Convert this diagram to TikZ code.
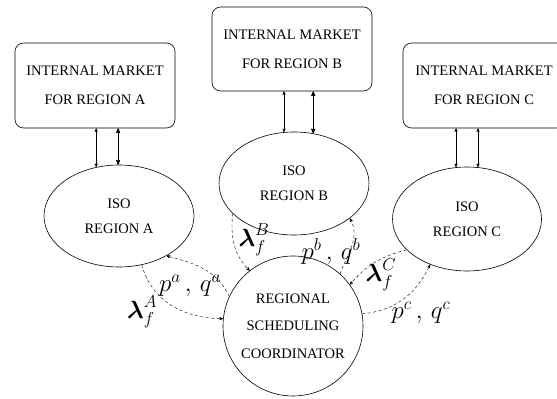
\documentclass[tikz,border=0pt]{standalone}
\usepackage{amsmath}
\usepackage{fontspec}
\setmainfont{Liberation Serif}
\usetikzlibrary{arrows,arrows.meta,shapes.geometric,calc}
\newcommand{\lam}[2]{\boldsymbol{\lambda}_{#1}^{#2}}

\begin{document}
\begin{tikzpicture}[x=1pt,y=1pt,>=stealth',semithick,
		market/.style={draw, rounded corners=3mm, align=center, inner sep=0,
			font=\fontsize{14.5}{29}\selectfont},
		iso/.style={draw, ellipse, inner sep=0, align=center,
			font=\fontsize{14.5}{25}\selectfont},
		rsc/.style={draw, circle, inner sep=0, minimum size=140, align=center,
			font=\fontsize{14.5}{27.5}\selectfont},
		link/.style={<->, thin, shorten >=0pt},
		flow/.style={->, thin, dashed, dash pattern=on 3pt off 2.5pt},
		lab/.style={font=\fontsize{25}{28}\selectfont, inner sep=0}]
	\path[use as bounding box, clip] (0,0) rectangle (557,399);
	
	\node[market, minimum width=160, minimum height=85] (mktA) at (95, 313.5) {INTERNAL MARKET\\FOR REGION A};
	\node[market, minimum width=160, minimum height=84] (mktB) at (292, 350) {INTERNAL MARKET\\FOR REGION B};
	\node[market, minimum width=162, minimum height=85] (mktC) at (484, 313.5) {INTERNAL MARKET\\FOR REGION C};
	
	\node[iso, minimum width=150, minimum height=102] (isoA) at (119, 183) {ISO\\REGION A};
	\node[iso, minimum width=150, minimum height=103] (isoB) at (294, 215.5) {ISO\\REGION B};
	\node[iso, minimum width=149, minimum height=104] (isoC) at (467, 180) {ISO\\REGION C};
	\node[rsc] (rsc) at (293, 73) {REGIONAL\\SCHEDULING\\COORDINATOR};
	
	% market <-> ISO
	\draw[link] (isoA.115 |- mktA.south) -- (isoA.115);
	\draw[link, thick] (isoA.91 |- mktA.south) -- (isoA.91);
	\draw[link] (isoB.101 |- mktB.south) -- (isoB.101);
	\draw[link, thick] (isoB.69 |- mktB.south) -- (isoB.69);
	\draw[link] (isoC.102 |- mktC.south) -- (isoC.102);
	\draw[link] (isoC.78 |- mktC.south) -- (isoC.78);
	
	% ISO <-> coordinator
	\draw[flow] (isoA.-65) to[out=-75, in=180] (rsc.174);
	\draw[flow] (rsc.155) to[out=115, in=-15] (isoA.-40);
	\draw[flow] (isoB.206) to[out=-95, in=135] (rsc.128);
	\draw[flow] (rsc.48) to[out=70, in=-60] (isoB.-32);
	\draw[flow] (isoC.207) to[out=195, in=50] (rsc.36);
	\draw[flow] (rsc.10) to[out=5, in=-115] (isoC.231);
	
	\node[lab] (lamA) at (142, 87) {$\lam{f}{A}$};
	\node[lab] (pqA) at (190, 113) {$p^a\,,\,q^a$};
	\node[lab] (lamB) at (254, 159) {$\lam{f}{B}$};
	\node[lab] (pqB) at (331, 148) {$p^b\,,\,q^b$};
	\node[lab] (lamC) at (381, 124) {$\lam{f}{C}$};
	\node[lab] (pqC) at (421, 86) {$p^c\,,\,q^c$};
\end{tikzpicture}
\end{document}
